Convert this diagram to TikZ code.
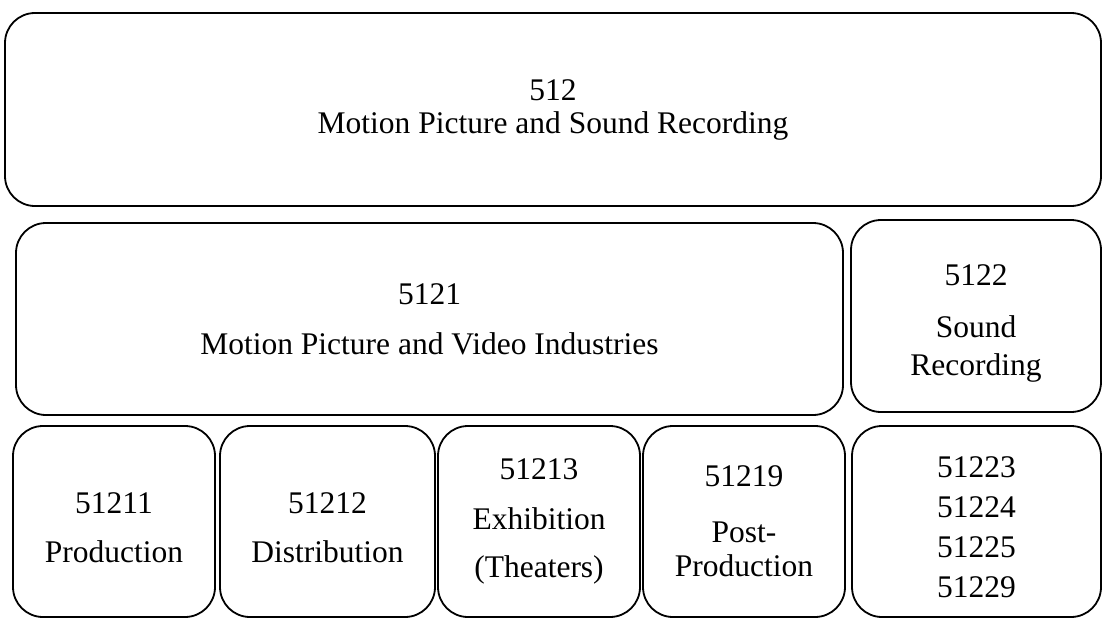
\documentclass[tikz,border=0pt]{standalone}
\usepackage{fontspec}
\setmainfont{Liberation Serif}
\tikzset{
    codebox/.style={draw, line width=1.8pt, rounded corners=30pt, align=center,
        inner sep=0pt, outer sep=0pt, font=\fontsize{31.5}{33}\selectfont}
}
\newcommand{\topstrut}[1]{\rule{0pt}{#1}}
\begin{document}
\begin{tikzpicture}[x=1pt,y=-1pt]
    \useasboundingbox (0,0) rectangle (1102,618);
    % sector
    \node[codebox, minimum width=1096pt, minimum height=193pt] (n512) at (553,109.5)
        {512\\Motion Picture and Sound Recording};
    % industry groups
    \node[codebox, minimum width=827pt, minimum height=192pt] (n5121) at (429.5,319)
        {5121\\[17pt]Motion Picture and Video Industries};
    \node[codebox, minimum width=250pt, minimum height=192pt] (n5122) at (976,316)
        {\topstrut{36pt}5122\\[19pt]Sound\\[5pt]Recording};
    % industries
    \node[codebox, minimum width=202pt, minimum height=191pt] (n51211) at (114,521.5)
        {\topstrut{34pt}51211\\[16pt]Production};
    \node[codebox, minimum width=215pt, minimum height=191pt] (n51212) at (327.5,521.5)
        {\topstrut{34pt}51212\\[16pt]Distribution};
    \node[codebox, minimum width=202pt, minimum height=191pt] (n51213) at (539,521.5)
        {51213\\[17pt]Exhibition\\[15pt](Theaters)};
    \node[codebox, minimum width=202pt, minimum height=191pt] (n51219) at (744,521.5)
        {51219\\[23pt]Post-\\[1pt]Production};
    \node[codebox, minimum width=249pt, minimum height=191pt] (n5122x) at (976.5,521.5)
        {\topstrut{32pt}51223\\[7pt]51224\\[7pt]51225\\[7pt]51229};
\end{tikzpicture}
\end{document}
